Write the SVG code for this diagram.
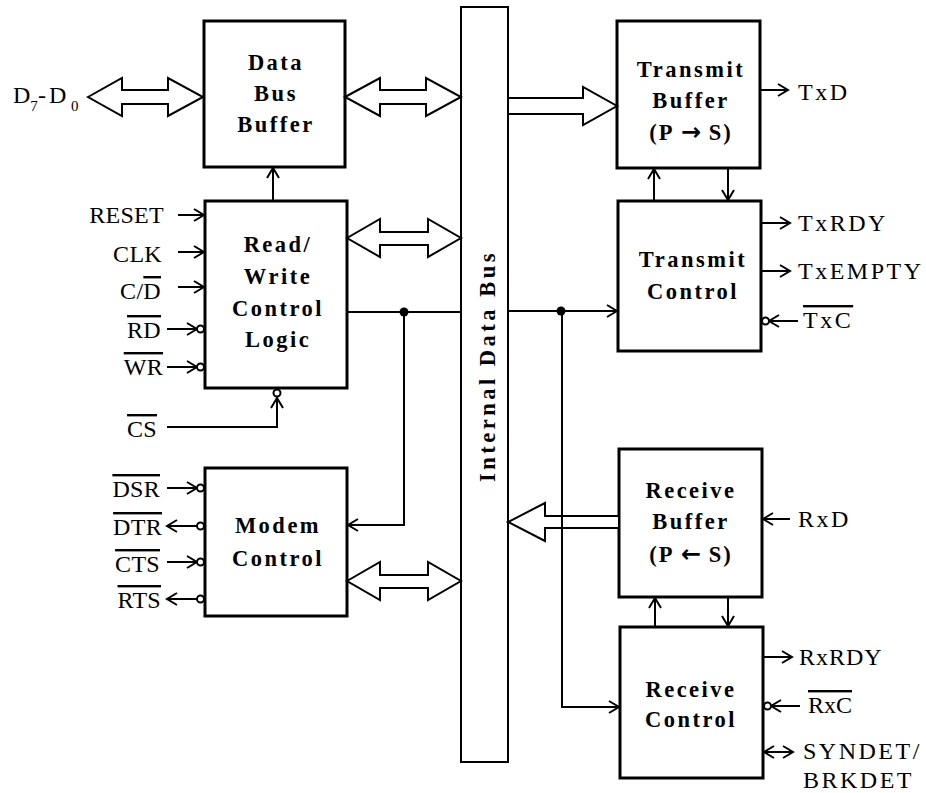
<svg xmlns="http://www.w3.org/2000/svg" width="926" height="793" viewBox="0 0 926 793">
<style>
.box{fill:#fff;stroke:#000;stroke-width:3}
.bus{fill:#fff;stroke:#000;stroke-width:2}
.t{font-family:"Liberation Serif","Times New Roman",serif;font-weight:bold;font-size:22.5px;letter-spacing:2.5px;text-anchor:middle;fill:#000}
.l{font-family:"Liberation Serif","Times New Roman",serif;font-size:24px;fill:#000}
.le{text-anchor:end;letter-spacing:0.3px}
.lr{letter-spacing:2.5px}
.ov{text-decoration:overline}
.ar{font-family:"DejaVu Sans",sans-serif;font-weight:bold;font-size:24px;letter-spacing:0}
.w{fill:none;stroke:#000;stroke-width:2}
.ha{fill:#fff;stroke:#000;stroke-width:2;stroke-linejoin:miter}
.bub{fill:#fff;stroke:#000;stroke-width:2}
</style>
<defs>
<marker id="ah" markerUnits="userSpaceOnUse" markerWidth="14" markerHeight="16" refX="11" refY="7" orient="auto">
<path d="M1,1 L11,7 L1,13" fill="none" stroke="#000" stroke-width="2"/>
</marker>
<marker id="ahs" markerUnits="userSpaceOnUse" markerWidth="14" markerHeight="16" refX="11" refY="7" orient="auto-start-reverse">
<path d="M1,1 L11,7 L1,13" fill="none" stroke="#000" stroke-width="2"/>
</marker>
</defs>

<g id="internal-data-bus">
<rect class="bus" x="461" y="7" width="47" height="755"/>
<text class="t" transform="translate(495,366) rotate(-90)" style="letter-spacing:3.5px">Internal Data Bus</text>
</g>

<g id="data-bus-buffer">
<rect class="box" x="204" y="21" width="141" height="146"/>
<text class="t" x="276" y="70">Data</text>
<text class="t" x="276" y="101">Bus</text>
<text class="t" x="276" y="132">Buffer</text>
</g>

<g id="rw-control">
<rect class="box" x="205" y="201" width="142" height="187"/>
<text class="t" x="278" y="252">Read/</text>
<text class="t" x="278" y="284">Write</text>
<text class="t" x="278" y="316">Control</text>
<text class="t" x="278" y="347">Logic</text>
</g>

<g id="modem-control">
<rect class="box" x="205" y="468" width="142" height="148"/>
<text class="t" x="278" y="533">Modem</text>
<text class="t" x="278" y="566">Control</text>
</g>

<g id="transmit-buffer">
<rect class="box" x="617" y="21" width="143" height="147"/>
<text class="t" x="691" y="77">Transmit</text>
<text class="t" x="691" y="108">Buffer</text>
<text class="t" x="691" y="140" style="letter-spacing:2px">(P <tspan class="ar">→</tspan> S)</text>
</g>

<g id="transmit-control">
<rect class="box" x="618" y="201" width="143" height="150"/>
<text class="t" x="693" y="267">Transmit</text>
<text class="t" x="693" y="299">Control</text>
</g>

<g id="receive-buffer">
<rect class="box" x="619" y="449" width="143" height="148"/>
<text class="t" x="691" y="498">Receive</text>
<text class="t" x="691" y="529">Buffer</text>
<text class="t" x="691" y="562" style="letter-spacing:2px">(P <tspan class="ar">←</tspan> S)</text>
</g>

<g id="receive-control">
<rect class="box" x="620" y="627" width="143" height="151"/>
<text class="t" x="691" y="697">Receive</text>
<text class="t" x="691" y="727">Control</text>
</g>

<g id="labels">
<text class="l" x="13" y="103">D<tspan font-size="15" dy="8">7</tspan><tspan x="38" dy="-8">-</tspan><tspan x="49">D</tspan><tspan font-size="15" dy="8" x="71">0</tspan></text>
<text class="l le" x="164" y="223">RESET</text>
<text class="l le" x="162" y="262">CLK</text>
<text class="l le" x="161" y="299">C/<tspan class="ov">D</tspan></text>
<text class="l le ov" x="161" y="338">RD</text>
<text class="l le ov" x="163" y="375">WR</text>
<text class="l le ov" x="157" y="437">CS</text>
<text class="l le ov" x="160" y="497">DSR</text>
<text class="l le ov" x="162" y="535">DTR</text>
<text class="l le ov" x="160" y="572">CTS</text>
<text class="l le ov" x="161" y="608">RTS</text>
<text class="l lr" x="798" y="100">TxD</text>
<text class="l lr" x="798" y="231">TxRDY</text>
<text class="l lr" x="798" y="279">TxEMPTY</text>
<text class="l lr ov" x="803" y="328">TxC</text>
<text class="l lr" x="798" y="527">RxD</text>
<text class="l" x="799" y="665" style="letter-spacing:1px">RxRDY</text>
<text class="l ov" x="808" y="713">RxC</text>
<text class="l lr" x="803" y="759">SYNDET/</text>
<text class="l lr" x="803" y="788">BRKDET</text>
</g>

<g id="connectors">
<polygon class="ha" points="88,97 122,78 122,90 168,90 168,78 203,97 168,116 168,104 122,104 122,116"/>
<polygon class="ha" points="345,97 380,78 380,90 426,90 426,78 461,97 426,116 426,104 380,104 380,116"/>
<polygon class="ha" points="347,238 380,219 380,232 428,232 428,219 461,238 428,257 428,245 380,245 380,257"/>
<polygon class="ha" points="347,581 380,562 380,575 428,575 428,562 461,581 428,600 428,588 380,588 380,600"/>
<polygon class="ha" points="508,98 583,98 583,87 617,106 583,125 583,114 508,114"/>
<polygon class="ha" points="508,522 545,503 545,516 619,516 619,528 545,528 545,541"/>

<line class="w" x1="273" y1="201" x2="273" y2="168" marker-end="url(#ah)"/>
<line class="w" x1="178" y1="215" x2="204" y2="215" marker-end="url(#ah)"/>
<line class="w" x1="178" y1="252" x2="204" y2="252" marker-end="url(#ah)"/>
<line class="w" x1="178" y1="287" x2="204" y2="287" marker-end="url(#ah)"/>
<line class="w" x1="167" y1="329" x2="197" y2="329" marker-end="url(#ah)"/>
<circle class="bub" cx="200.5" cy="329" r="3.5"/>
<line class="w" x1="167" y1="367" x2="197" y2="367" marker-end="url(#ah)"/>
<circle class="bub" cx="200.5" cy="367" r="3.5"/>
<polyline class="w" points="167,427 277,427 277,398" marker-end="url(#ah)"/>
<circle class="bub" cx="277" cy="393" r="3.5"/>
<line class="w" x1="347" y1="312" x2="461" y2="312"/>
<circle cx="404" cy="312" r="4.5" fill="#000"/>
<polyline class="w" points="404,312 404,525 348,525" marker-end="url(#ah)"/>
<line class="w" x1="167" y1="488" x2="197" y2="488" marker-end="url(#ah)"/>
<circle class="bub" cx="200.5" cy="488" r="3.5"/>
<line class="w" x1="197" y1="526" x2="167" y2="526" marker-end="url(#ah)"/>
<circle class="bub" cx="200.5" cy="526" r="3.5"/>
<line class="w" x1="167" y1="562" x2="197" y2="562" marker-end="url(#ah)"/>
<circle class="bub" cx="200.5" cy="562" r="3.5"/>
<line class="w" x1="197" y1="599" x2="167" y2="599" marker-end="url(#ah)"/>
<circle class="bub" cx="200.5" cy="599" r="3.5"/>
<line class="w" x1="508" y1="311" x2="617" y2="311" marker-end="url(#ah)"/>
<circle cx="561" cy="311" r="4.5" fill="#000"/>
<polyline class="w" points="562,311 562,707 619,707" marker-end="url(#ah)"/>
<line class="w" x1="654" y1="201" x2="654" y2="169" marker-end="url(#ah)"/>
<line class="w" x1="728" y1="168" x2="728" y2="200" marker-end="url(#ah)"/>
<line class="w" x1="761" y1="90" x2="788" y2="90" marker-end="url(#ah)"/>
<line class="w" x1="762" y1="223" x2="790" y2="223" marker-end="url(#ah)"/>
<line class="w" x1="762" y1="271" x2="790" y2="271" marker-end="url(#ah)"/>
<line class="w" x1="798" y1="321" x2="769" y2="321" marker-end="url(#ah)"/>
<circle class="bub" cx="765.5" cy="321" r="3.5"/>
<line class="w" x1="790" y1="519" x2="763" y2="519" marker-end="url(#ah)"/>
<line class="w" x1="655" y1="627" x2="655" y2="598" marker-end="url(#ah)"/>
<line class="w" x1="728" y1="597" x2="728" y2="626" marker-end="url(#ah)"/>
<line class="w" x1="764" y1="657" x2="792" y2="657" marker-end="url(#ah)"/>
<line class="w" x1="800" y1="706" x2="771" y2="706" marker-end="url(#ah)"/>
<circle class="bub" cx="767.5" cy="706" r="3.5"/>
<line class="w" x1="764" y1="752" x2="793" y2="752" marker-start="url(#ahs)" marker-end="url(#ah)"/>
</g>
</svg>
